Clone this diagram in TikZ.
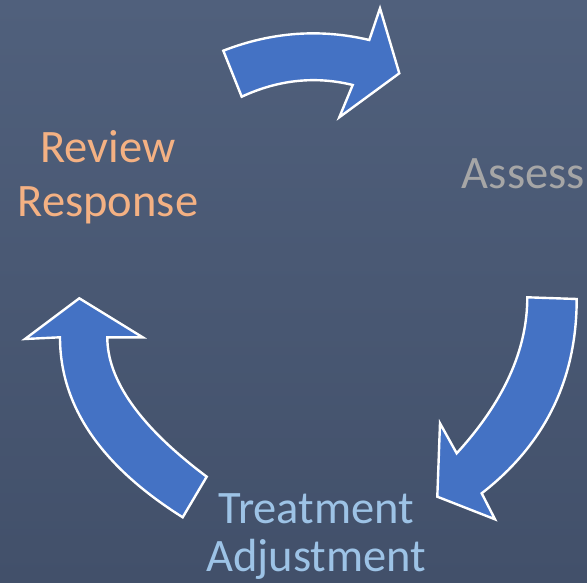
\documentclass[tikz,border=0pt]{standalone}
\usepackage{fontspec}
\setmainfont{Carlito}
\definecolor{bgtop}{HTML}{50607C}
\definecolor{bgbot}{HTML}{42506A}
\definecolor{arrowblue}{HTML}{4472C4}
\definecolor{reviewc}{HTML}{F4B183}
\definecolor{assessc}{HTML}{A6A6A6}
\definecolor{treatc}{HTML}{9DC3E6}
\begin{document}
\begin{tikzpicture}[x=1pt,y=-1pt,
  blockarrow/.style={fill=arrowblue, draw=white, line width=2.4pt, line join=miter},
  steplabel/.style={inner sep=0pt, align=center}]
% background
\fill[top color=bgtop, bottom color=bgbot] (0,0) rectangle (587,583);
\useasboundingbox (0,0) rectangle (587,583);

% cycle arrows
\draw[blockarrow] (223.3,50.7) .. controls (271.5,32.0) and (320.2,28.4) .. (369.3,40)
  -- (380,8.3) -- (399.3,73.3) -- (339.3,117.3) -- (352.7,85)
  .. controls (315.4,75.8) and (278.4,79.7) .. (241.7,96.7) -- cycle;

\draw[blockarrow] (527.3,297.3) -- (576.7,299)
  .. controls (576.7,379.5) and (545,444.2) .. (481.7,493.3)
  -- (495,519.3) -- (437.3,496.7) -- (440,423.3) -- (456.7,453.3)
  .. controls (503.8,401.8) and (527.3,349.8) .. (527.3,297.3) -- cycle;

\draw[blockarrow] (79.3,298.3) -- (142.7,337.3) -- (107.3,337.3)
  .. controls (107.3,380.5) and (140.4,427) .. (206.7,476.7)
  -- (182.7,517.3)
  .. controls (100.9,465.9) and (60,405.9) .. (60,337.3)
  -- (25,339) -- cycle;

% step labels
\node[steplabel, text=reviewc, font=\fontsize{46.5}{53.3}\selectfont] (review) at (108,177.4) {Review\\Response};
\node[steplabel, text=assessc, font=\fontsize{46.5}{53}\selectfont, anchor=base] (assess) at (523.3,188.3) {Assess};
\node[steplabel, text=treatc, font=\fontsize{46.5}{48}\selectfont] (treat) at (316.3,537) {Treatment\\Adjustment};
\end{tikzpicture}
\end{document}
